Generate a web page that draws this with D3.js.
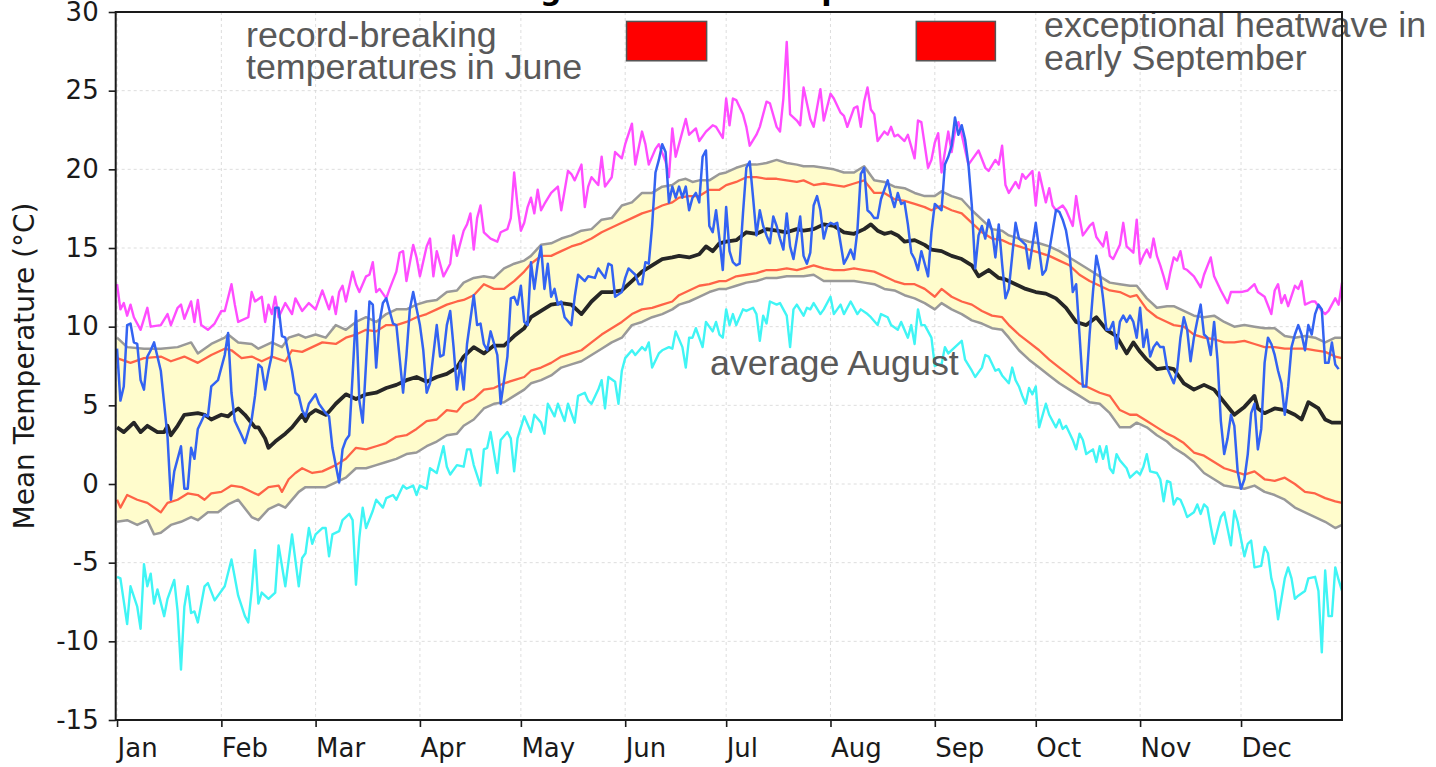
<!DOCTYPE html>
<html>
<head>
<meta charset="utf-8">
<script src="https://cdn.jsdelivr.net/npm/d3@7"></script>
<style>
body { margin: 0; background: #fff; }
svg { display: block; }
</style>
</head>
<body>
<svg id="chart" width="1436" height="767"></svg>
<script>
// day of year (0 = 1 Jan) and temperature in °C
const recordHigh = [[0,12.7],[1,11.1],[2,11.5],[3,10.7],[4,11.4],[5,10.6],[7,9.8],[9,11.2],[10,10.0],[13,10.1],[15,10.8],[16,10.1],[18,11.2],[19,11.4],[20,10.5],[22,11.6],[23,10.3],[24,11.7],[25,10.1],[27,9.8],[29,10.2],[31,11.0],[32,11.0],[34,12.7],[35,11.4],[36,10.3],[39,10.6],[40,12.2],[41,11.6],[43,11.9],[44,10.3],[45,11.4],[46,10.8],[47,11.9],[48,10.6],[50,11.5],[52,10.8],[53,11.8],[55,11.0],[57,11.5],[59,11.1],[61,12.3],[63,11.1],[64,11.9],[65,10.8],[66,12.2],[67,12.6],[68,11.6],[70,13.5],[71,12.7],[72,12.2],[74,13.2],[75,13.3],[76,14.1],[77,12.2],[78,12.4],[80,11.8],[81,12.4],[83,13.5],[84,14.7],[85,14.8],[86,12.9],[88,15.2],[89,14.4],[90,13.2],[92,15.1],[93,15.6],[94,13.2],[95,14.8],[96,14.0],[97,13.2],[99,14.0],[100,15.8],[101,14.5],[103,16.1],[104,16.5],[105,17.2],[106,14.9],[107,16.9],[108,17.7],[109,16.0],[111,15.6],[113,15.4],[114,16.0],[116,16.2],[117,16.9],[118,19.8],[119,17.7],[120,16.1],[121,16.6],[122,17.6],[123,18.2],[124,17.2],[125,18.7],[126,17.4],[127,17.8],[129,18.5],[131,18.9],[132,17.4],[134,19.9],[135,19.7],[136,19.3],[138,20.3],[139,17.6],[140,18.9],[141,19.5],[143,19.0],[144,20.8],[145,18.9],[147,19.5],[148,21.1],[150,20.7],[151,21.6],[153,22.9],[154,20.3],[156,22.4],[157,21.6],[158,20.3],[160,21.3],[161,21.6],[163,20.5],[164,19.5],[165,22.6],[166,20.8],[167,21.6],[169,23.2],[170,22.2],[172,22.6],[173,21.8],[175,22.4],[177,22.8],[178,22.7],[180,22.0],[181,24.5],[182,22.8],[183,24.5],[184,24.4],[186,23.5],[187,22.7],[188,21.5],[190,22.2],[191,22.7],[193,24.3],[194,24.2],[196,22.7],[197,22.4],[198,24.5],[199,28.1],[200,23.5],[202,23.1],[203,22.8],[204,25.2],[206,23.2],[207,22.7],[209,25.1],[210,23.1],[212,24.8],[213,24.5],[215,23.6],[216,23.4],[217,22.7],[219,23.9],[220,24.0],[221,22.7],[222,24.3],[223,25.2],[224,23.8],[225,23.5],[226,21.8],[228,22.4],[229,22.2],[230,22.7],[231,22.1],[232,22.2],[234,21.8],[235,22.2],[237,20.7],[238,23.1],[239,23.0],[241,20.1],[242,20.6],[243,21.7],[244,22.3],[245,19.8],[247,22.4],[248,21.1],[249,22.4],[250,23.0],[251,22.2],[253,20.3],[254,20.6],[256,21.2],[258,20.1],[259,19.9],[261,20.6],[262,20.3],[263,21.5],[264,19.0],[265,18.5],[267,19.2],[268,18.8],[269,19.7],[270,19.4],[272,19.9],[273,17.7],[274,19.8],[276,17.9],[277,18.8],[278,17.7],[279,17.4],[281,17.7],[282,17.4],[284,16.4],[285,18.3],[286,16.9],[287,15.8],[289,16.4],[290,16.6],[291,15.7],[293,15.1],[294,16.0],[295,14.5],[296,14.3],[298,15.2],[299,16.6],[300,15.1],[302,14.7],[303,16.8],[304,14.0],[305,14.5],[306,14.9],[307,14.4],[308,15.6],[309,14.5],[310,13.9],[311,13.2],[312,12.4],[313,13.5],[314,14.4],[315,14.2],[316,14.8],[317,13.7],[318,13.6],[320,13.2],[322,12.5],[323,13.3],[325,14.4],[326,13.2],[328,12.3],[329,11.9],[330,11.5],[331,12.2],[333,12.2],[334,12.2],[336,12.3],[338,12.7],[339,12.2],[341,11.9],[343,10.8],[344,12.3],[345,12.7],[346,11.5],[347,12.0],[348,11.3],[350,12.6],[351,12.4],[352,12.9],[353,11.4],[355,11.6],[356,11.6],[358,11.0],[359,10.8],[360,11.0],[362,11.8],[363,11.4],[364,12.8]];

const recordLow = [[0,-5.9],[1,-6.0],[3,-8.9],[4,-6.5],[6,-7.8],[7,-9.2],[8,-5.1],[9,-6.5],[10,-5.7],[11,-7.6],[12,-6.7],[14,-8.4],[15,-7.3],[17,-6.1],[18,-8.1],[19,-11.8],[20,-7.8],[21,-6.5],[22,-8.2],[23,-8.1],[24,-8.8],[26,-6.5],[27,-6.3],[29,-7.4],[32,-6.5],[34,-4.8],[36,-7.1],[38,-8.4],[39,-8.8],[40,-6.8],[41,-4.2],[42,-7.6],[43,-6.9],[45,-7.3],[47,-6.9],[48,-3.9],[50,-6.5],[52,-3.2],[54,-6.5],[55,-4.7],[56,-4.4],[57,-2.8],[58,-3.8],[59,-3.2],[61,-2.8],[62,-2.8],[63,-4.6],[64,-3.2],[66,-3.0],[67,-2.3],[69,-1.9],[70,-2.3],[71,-6.4],[72,-3.4],[73,-1.5],[74,-2.8],[76,-1.7],[77,-1.0],[79,-1.5],[80,-0.9],[82,-0.7],[83,-1.0],[85,-0.1],[86,-0.3],[88,-0.1],[89,-0.7],[90,-0.1],[92,-0.3],[93,1.0],[95,0.7],[97,2.4],[98,1.1],[99,0.6],[101,1.2],[103,1.1],[104,2.2],[105,2.2],[106,1.2],[108,-0.1],[109,2.2],[110,2.3],[111,3.3],[113,0.7],[114,2.8],[116,3.3],[117,2.9],[118,0.8],[119,2.9],[121,4.3],[123,3.3],[124,4.4],[126,3.9],[127,3.2],[128,5.1],[130,4.3],[131,5.1],[133,4.0],[134,5.1],[136,3.9],[137,5.6],[139,5.8],[140,5.3],[141,5.1],[143,6.0],[144,6.6],[145,4.8],[146,6.8],[148,6.5],[149,5.1],[150,7.2],[151,8.0],[153,8.5],[154,8.2],[156,8.7],[157,8.5],[158,9.0],[159,7.4],[161,8.3],[162,8.5],[164,8.7],[165,8.6],[166,9.7],[168,8.7],[169,7.4],[170,9.3],[171,9.3],[172,9.9],[174,8.7],[175,10.3],[177,9.7],[178,10.3],[179,9.5],[180,9.3],[181,11.1],[182,10.1],[183,10.8],[184,10.1],[186,11.1],[187,11.0],[189,11.2],[190,10.8],[191,9.1],[192,10.7],[193,10.2],[194,11.6],[196,11.4],[197,11.5],[199,10.7],[200,8.7],[201,11.1],[202,11.4],[204,10.7],[205,11.2],[206,11.1],[207,11.5],[209,10.8],[210,11.1],[212,11.9],[213,10.8],[215,11.4],[216,10.8],[218,11.6],[220,10.8],[221,11.1],[223,10.8],[224,10.6],[226,10.1],[227,10.8],[229,10.6],[230,10.1],[232,9.8],[233,10.3],[235,9.3],[236,10.1],[237,8.9],[238,11.1],[239,10.1],[240,10.1],[242,9.3],[243,7.5],[244,7.6],[245,7.6],[246,8.7],[247,8.3],[249,8.7],[251,9.1],[252,7.9],[254,7.2],[255,6.8],[257,7.4],[258,8.2],[259,8.1],[261,7.2],[262,7.3],[263,6.9],[265,6.4],[266,7.4],[267,6.6],[268,6.2],[269,5.6],[270,5.1],[271,6.1],[272,5.7],[273,6.2],[274,3.6],[276,5.1],[277,4.4],[279,3.6],[280,4.1],[281,3.5],[282,3.7],[284,2.8],[285,2.2],[286,3.2],[287,2.8],[288,1.9],[290,2.2],[291,1.4],[292,2.4],[293,1.6],[294,2.4],[295,1.0],[296,0.7],[297,1.9],[298,1.5],[300,1.0],[301,0.4],[303,0.8],[304,0.6],[305,1.1],[306,1.9],[307,0.8],[309,0.7],[310,0.3],[311,-1.1],[312,0.2],[313,0.1],[314,-1.3],[315,-0.9],[316,-1.0],[317,-1.5],[318,-2.1],[320,-1.8],[321,-1.3],[322,-1.9],[323,-1.3],[324,-1.5],[325,-2.7],[326,-3.8],[328,-2.1],[329,-1.8],[331,-3.9],[332,-1.7],[333,-2.4],[335,-4.6],[336,-3.8],[337,-3.6],[338,-5.3],[340,-5.2],[341,-4.0],[342,-4.4],[343,-6.0],[344,-6.8],[345,-8.6],[347,-6.0],[348,-5.3],[349,-6.0],[350,-7.3],[351,-7.1],[353,-6.8],[354,-6.0],[356,-5.9],[357,-6.8],[358,-10.7],[359,-5.5],[360,-8.4],[361,-8.4],[362,-5.3],[363,-6.1],[364,-6.8]];

// outer percentile band (grey) and inner percentile band (orange)
const outerHigh = [[0,9.3],[3,8.7],[8,8.6],[13,8.6],[18,8.7],[22,9.0],[24,8.3],[28,8.9],[32,9.3],[33,9.5],[36,9.0],[40,8.9],[42,8.6],[46,9.0],[49,8.7],[51,9.3],[54,9.5],[56,9.3],[59,9.5],[62,9.3],[65,10.1],[68,9.8],[71,10.3],[74,10.6],[77,10.3],[80,10.8],[83,11.1],[86,11.1],[89,11.4],[92,11.6],[95,11.7],[98,12.2],[101,12.3],[103,12.8],[106,13.1],[109,13.2],[112,13.1],[115,13.7],[118,14.0],[121,14.2],[123,14.5],[126,15.2],[129,15.3],[132,15.6],[135,15.8],[138,16.1],[141,16.2],[144,16.8],[147,16.9],[150,17.7],[153,17.9],[156,18.5],[159,18.5],[162,18.9],[165,19.0],[167,19.3],[169,19.4],[171,19.2],[173,19.3],[176,19.3],[179,19.7],[181,19.8],[184,20.1],[187,20.3],[190,20.3],[193,20.4],[196,20.6],[199,20.4],[202,20.3],[204,20.2],[207,20.2],[210,20.1],[213,20.0],[216,19.8],[219,19.8],[222,20.2],[225,19.3],[228,19.2],[231,18.9],[234,18.8],[237,18.5],[240,18.3],[243,18.3],[245,18.6],[248,18.3],[251,18.1],[254,17.4],[257,16.8],[260,16.2],[263,16.1],[265,15.8],[268,15.6],[271,15.4],[274,15.3],[277,15.1],[280,14.8],[283,14.4],[286,14.0],[289,13.6],[292,13.2],[295,12.8],[298,12.7],[301,12.6],[303,12.6],[306,11.8],[309,11.2],[312,11.3],[314,11.3],[317,11.0],[320,10.7],[323,10.6],[326,10.7],[329,10.3],[332,10.0],[335,10.1],[338,10.0],[341,9.9],[344,9.9],[347,9.4],[350,9.3],[353,9.4],[356,9.3],[359,9.0],[362,9.3],[364,9.3]];

const innerHigh = [[0,8.0],[4,7.7],[8,8.0],[13,8.1],[16,7.8],[20,8.1],[24,7.7],[28,8.2],[32,8.6],[34,8.5],[37,8.0],[40,8.1],[43,7.8],[46,8.1],[50,7.8],[52,8.5],[55,8.4],[58,8.7],[61,9.0],[65,8.9],[68,9.3],[71,9.5],[74,9.8],[77,9.7],[80,10.1],[83,10.1],[86,10.3],[89,10.6],[92,10.8],[95,11.1],[98,11.4],[101,11.6],[103,11.7],[106,12.0],[109,12.7],[112,12.4],[115,12.4],[118,12.9],[121,13.5],[123,14.0],[126,14.5],[129,14.5],[132,14.8],[135,15.1],[138,15.3],[141,15.6],[144,16.0],[147,16.3],[150,16.6],[153,16.9],[156,17.2],[159,17.4],[162,17.7],[165,17.9],[167,18.2],[170,18.3],[173,18.3],[176,18.7],[179,18.7],[181,19.0],[184,19.2],[187,19.5],[190,19.5],[193,19.4],[196,19.4],[199,19.3],[202,19.2],[204,19.3],[207,19.0],[210,19.1],[213,19.0],[216,18.9],[219,19.1],[222,19.3],[225,18.5],[228,18.5],[231,18.1],[234,18.0],[237,17.8],[240,17.6],[242,17.4],[245,17.7],[248,17.4],[251,17.2],[254,16.6],[257,16.0],[260,15.6],[263,15.5],[265,15.3],[268,15.1],[271,14.9],[274,14.7],[277,14.5],[280,14.2],[283,13.9],[286,13.3],[289,12.9],[292,12.6],[295,12.3],[298,12.2],[301,11.9],[303,12.0],[306,11.1],[309,10.6],[312,10.3],[314,10.1],[317,10.0],[320,9.5],[323,9.3],[326,9.2],[329,9.0],[332,9.0],[335,9.1],[338,8.9],[341,8.7],[344,8.7],[347,8.6],[350,8.6],[353,8.6],[356,8.5],[359,8.4],[362,8.1],[364,8.0]];

const meanTemp = [[0,3.6],[2,3.3],[5,3.9],[7,3.3],[9,3.7],[12,3.3],[14,3.3],[15,3.7],[16,3.1],[18,3.7],[20,4.4],[24,4.5],[26,4.4],[28,4.1],[31,4.4],[33,4.3],[34,4.5],[36,4.8],[38,4.4],[41,3.6],[42,3.6],[44,2.9],[45,2.3],[47,2.7],[50,3.2],[52,3.6],[55,4.4],[56,4.0],[57,4.4],[59,4.7],[62,4.4],[63,4.6],[65,5.1],[68,5.7],[71,5.4],[74,5.7],[77,5.8],[80,6.1],[83,6.3],[86,6.6],[89,6.8],[92,6.5],[95,6.8],[98,7.0],[101,7.4],[103,8.1],[106,8.7],[109,8.3],[112,8.8],[115,8.8],[118,9.4],[121,9.9],[123,10.6],[126,11.0],[129,11.4],[132,11.5],[135,11.4],[138,10.8],[141,11.6],[144,12.2],[147,12.2],[150,12.3],[153,12.9],[156,13.5],[159,13.9],[162,14.3],[165,14.4],[167,14.5],[170,14.4],[173,14.6],[175,15.1],[177,14.8],[179,15.3],[181,15.4],[184,15.5],[187,16.0],[190,15.9],[193,16.2],[196,16.1],[199,16.0],[202,16.2],[204,16.1],[207,16.2],[210,16.5],[213,16.4],[216,16.0],[219,15.9],[222,16.2],[224,16.5],[226,16.1],[228,15.9],[230,16.0],[232,15.8],[234,15.4],[237,15.5],[240,15.2],[242,14.9],[245,14.8],[248,14.5],[251,14.3],[254,13.9],[256,13.2],[259,13.6],[262,13.1],[264,13.0],[267,12.7],[270,12.4],[273,12.2],[276,12.1],[279,11.8],[282,11.2],[285,10.3],[288,10.1],[291,10.6],[294,9.8],[297,9.4],[300,8.3],[302,9.0],[304,8.4],[306,7.9],[309,7.3],[312,7.4],[314,7.3],[317,6.4],[320,6.0],[323,6.3],[326,6.0],[329,5.2],[332,4.4],[335,4.9],[338,5.6],[339,4.8],[341,4.5],[344,4.8],[347,4.7],[350,4.4],[352,4.1],[354,5.2],[357,4.8],[359,4.1],[361,3.9],[364,3.9]];

const innerLow = [[0,-1.0],[1,-1.5],[3,-0.7],[6,-1.0],[9,-1.2],[13,-1.8],[15,-1.2],[18,-1.0],[21,-0.6],[24,-0.7],[26,-1.0],[28,-0.6],[31,-0.5],[34,-0.1],[37,-0.2],[39,-0.4],[42,-0.7],[45,-0.2],[48,-0.1],[49,-0.5],[51,0.3],[53,0.7],[55,1.0],[58,0.7],[61,0.8],[65,1.2],[68,1.6],[71,2.3],[74,2.2],[77,2.4],[80,2.6],[83,3.0],[86,3.1],[89,3.5],[92,4.0],[95,4.1],[98,4.7],[101,4.6],[103,5.1],[106,5.4],[109,6.0],[112,6.1],[115,6.4],[118,6.6],[121,6.8],[123,7.2],[126,7.4],[129,7.7],[132,8.1],[135,8.3],[138,8.5],[141,9.0],[144,9.5],[147,9.9],[150,10.3],[153,10.8],[156,11.1],[159,11.2],[162,11.4],[165,11.6],[167,12.0],[170,12.3],[173,12.6],[176,12.7],[179,12.9],[181,12.9],[184,13.2],[187,13.3],[190,13.4],[193,13.6],[196,13.6],[199,13.7],[202,13.6],[204,13.7],[207,13.9],[210,13.7],[213,13.6],[216,13.6],[219,13.7],[222,13.6],[225,13.5],[228,13.2],[231,12.9],[234,12.7],[237,12.7],[240,12.4],[243,11.9],[245,12.4],[248,11.9],[251,11.6],[254,11.4],[257,11.0],[260,10.7],[263,10.6],[265,10.1],[268,9.5],[271,9.0],[274,8.5],[277,7.9],[280,7.4],[283,6.9],[286,6.4],[289,6.1],[292,5.8],[295,5.6],[298,4.7],[301,4.4],[303,4.4],[306,4.0],[309,3.6],[312,3.2],[314,3.0],[317,2.6],[320,2.0],[323,1.8],[326,1.4],[329,1.0],[332,0.8],[335,0.6],[338,0.8],[341,0.3],[344,0.2],[347,0.4],[350,0.0],[353,-0.5],[356,-0.6],[359,-0.9],[362,-1.1],[364,-1.2]];

const outerLow = [[0,-2.4],[3,-2.3],[6,-2.6],[9,-2.3],[11,-3.2],[13,-3.1],[16,-2.6],[19,-2.4],[22,-2.1],[24,-2.3],[27,-1.8],[30,-1.8],[33,-1.3],[36,-1.0],[40,-2.1],[42,-2.3],[45,-1.6],[48,-1.3],[50,-1.5],[54,-0.5],[56,-0.2],[59,-0.2],[62,-0.2],[65,0.1],[68,0.4],[71,1.0],[74,1.0],[77,1.2],[80,1.4],[83,1.6],[86,1.9],[89,2.0],[92,2.4],[95,2.7],[98,3.1],[101,3.2],[103,3.7],[106,4.1],[109,4.8],[112,5.1],[115,5.2],[118,5.6],[121,6.0],[123,6.4],[126,6.6],[129,6.9],[132,7.4],[135,7.6],[138,7.8],[141,8.2],[144,8.6],[147,9.0],[150,9.3],[153,10.1],[156,10.3],[159,10.6],[162,10.8],[165,11.1],[167,11.4],[170,11.6],[173,11.9],[176,12.2],[179,12.4],[181,12.4],[184,12.6],[187,12.8],[190,12.9],[193,13.1],[196,13.1],[199,13.2],[202,13.2],[204,13.2],[207,13.3],[210,12.9],[213,12.9],[216,12.9],[219,12.9],[222,12.8],[225,12.7],[228,12.4],[231,12.3],[234,12.0],[237,11.8],[240,11.5],[243,11.1],[245,11.5],[248,11.1],[251,10.8],[254,10.4],[257,10.2],[260,9.9],[263,9.8],[265,9.3],[268,8.5],[271,7.9],[274,7.4],[277,6.9],[280,6.4],[283,6.0],[286,5.6],[289,5.2],[292,5.1],[295,4.5],[298,3.6],[301,3.6],[303,3.9],[306,3.6],[309,3.1],[312,2.7],[314,2.3],[317,1.9],[320,1.4],[323,0.7],[326,0.3],[329,-0.1],[332,-0.2],[335,-0.3],[338,-0.1],[341,-0.5],[344,-0.7],[347,-1.0],[350,-1.5],[353,-1.8],[356,-2.1],[359,-2.4],[362,-2.8],[364,-2.6]];

const thisYear = [[0,8.6],[1,5.3],[2,6.2],[3,10.1],[4,10.2],[5,9.0],[6,8.9],[7,6.6],[8,6.0],[9,8.1],[10,8.5],[11,9.0],[12,8.1],[13,7.2],[15,3.0],[16,-1.0],[17,0.8],[19,2.4],[20,-0.3],[21,-0.3],[22,2.3],[23,1.6],[24,3.5],[26,4.4],[27,4.3],[28,6.2],[30,6.6],[32,8.2],[33,9.6],[34,5.8],[35,4.0],[37,3.1],[38,2.6],[40,4.1],[41,5.6],[42,7.6],[43,7.4],[44,6.0],[45,7.2],[46,8.2],[47,11.2],[48,11.2],[49,9.4],[50,9.3],[52,7.2],[53,5.8],[54,5.6],[55,4.7],[56,4.3],[57,5.1],[59,5.7],[60,5.1],[62,4.5],[63,4.3],[64,2.3],[66,0.1],[67,2.2],[68,2.8],[69,3.1],[70,6.9],[71,11.0],[72,5.3],[73,3.9],[74,7.7],[75,11.6],[76,11.4],[77,7.4],[78,10.3],[79,11.5],[80,11.8],[82,10.2],[83,10.1],[85,5.8],[86,8.2],[87,11.1],[88,12.2],[90,10.1],[91,8.5],[92,5.8],[93,6.4],[95,10.1],[96,8.1],[97,8.2],[98,10.1],[99,11.0],[100,8.7],[101,6.0],[102,7.7],[103,6.0],[104,8.9],[106,12.0],[107,10.1],[108,10.2],[109,8.9],[110,8.5],[111,9.7],[113,8.2],[114,5.1],[116,8.1],[117,11.8],[118,11.9],[119,11.4],[120,12.6],[121,10.3],[122,10.1],[123,14.1],[124,12.4],[125,14.0],[126,15.1],[127,12.4],[128,14.0],[129,11.9],[130,12.4],[131,11.4],[132,11.6],[133,10.6],[135,10.1],[136,11.9],[137,13.3],[139,12.9],[140,13.2],[142,13.1],[143,13.7],[145,13.1],[146,14.0],[147,13.9],[148,11.9],[150,12.2],[151,13.1],[152,13.7],[154,13.3],[155,12.7],[156,12.7],[157,14.1],[158,14.0],[159,16.4],[160,19.8],[161,20.6],[162,21.6],[163,21.1],[164,17.9],[165,18.9],[166,18.2],[167,18.9],[168,18.2],[169,18.9],[170,17.4],[171,18.2],[172,18.5],[173,17.9],[174,20.8],[175,21.2],[176,16.4],[177,16.0],[178,17.4],[179,15.6],[180,13.6],[181,17.6],[182,14.8],[183,14.1],[184,13.9],[185,14.0],[186,17.2],[187,20.1],[188,20.5],[189,18.2],[190,15.8],[191,17.4],[192,16.4],[193,15.8],[194,15.3],[195,17.0],[196,16.4],[197,15.6],[198,14.9],[199,17.2],[200,15.1],[201,14.3],[202,15.6],[203,17.0],[204,14.5],[205,14.0],[206,14.7],[207,17.7],[208,18.3],[209,17.4],[210,15.6],[211,16.4],[212,16.6],[213,16.5],[214,16.6],[215,15.3],[216,14.0],[217,14.4],[218,14.9],[219,14.3],[220,16.1],[221,19.7],[222,20.1],[223,17.4],[224,17.2],[225,16.9],[226,16.9],[227,18.1],[228,18.7],[229,19.3],[230,18.3],[231,17.6],[232,18.5],[233,17.8],[234,17.9],[235,16.5],[236,14.7],[237,14.3],[238,13.6],[239,14.8],[240,14.0],[241,13.2],[242,16.0],[243,17.8],[245,17.4],[246,20.3],[247,20.8],[248,21.5],[249,23.3],[250,22.2],[251,22.8],[252,21.9],[253,20.3],[254,17.7],[255,13.7],[256,15.8],[257,16.4],[258,15.6],[259,16.8],[260,16.1],[261,14.4],[262,16.5],[263,14.0],[264,11.8],[265,12.4],[266,14.5],[267,16.6],[268,15.6],[269,15.4],[270,15.2],[271,13.7],[273,16.6],[274,14.9],[275,13.3],[276,13.6],[277,14.8],[279,17.4],[280,17.3],[281,16.8],[282,16.1],[283,14.8],[284,12.2],[285,12.7],[286,9.5],[287,6.2],[288,6.2],[289,9.5],[290,12.2],[291,14.5],[292,13.5],[293,11.8],[294,9.8],[295,9.8],[296,10.3],[297,8.6],[298,10.3],[299,10.7],[300,10.3],[301,10.7],[302,10.3],[303,9.3],[304,11.2],[305,8.7],[306,9.8],[307,8.1],[308,8.7],[309,9.0],[310,8.7],[311,8.7],[312,7.4],[313,6.9],[314,6.4],[315,7.2],[316,9.3],[317,10.6],[318,9.8],[319,7.8],[320,9.3],[321,10.4],[322,11.4],[323,9.5],[324,9.3],[325,8.2],[326,10.3],[327,7.9],[328,4.0],[329,1.9],[330,2.9],[331,4.4],[332,3.7],[333,0.8],[334,-0.3],[335,0.3],[336,1.9],[337,4.5],[338,5.1],[339,2.2],[340,3.5],[341,7.7],[342,9.3],[343,8.9],[344,8.2],[345,7.2],[346,6.4],[347,4.4],[348,6.2],[349,8.7],[350,9.5],[351,10.1],[352,9.5],[353,8.5],[354,10.1],[355,9.5],[356,10.8],[357,11.4],[358,11.1],[359,7.7],[360,7.7],[361,9.0],[362,7.6],[363,7.3]];

const monthNames = ['Jan', 'Feb', 'Mar', 'Apr', 'May', 'Jun', 'Jul', 'Aug', 'Sep', 'Oct', 'Nov', 'Dec'];
const monthStarts = [0, 31, 59, 90, 120, 151, 181, 212, 243, 273, 304, 334];
const tempTicks = [-15, -10, -5, 0, 5, 10, 15, 20, 25, 30];

// the two marked heat periods: [first day, last day]
const heatPeriods = [[151.4, 175.2], [237.5, 261.0]];

const width = 1436;
const height = 767;
const margin = {top: 12, right: 94, bottom: 47, left: 115.7};

const svg = d3.select('#chart');

const x = d3.scaleLinear()
	.domain([-0.4, 364])
	.range([margin.left, width - margin.right]);

const y = d3.scaleLinear()
	.domain([-15, 30])
	.range([height - margin.bottom, margin.top]);

const line = d3.line()
	.x((d)=>x(d[0]))
	.y((d)=>y(d[1]));

// title, mostly cut off by the top of the picture
svg.append('text')
	.attr('x', 706)
	.attr('y', 0)
	.attr('text-anchor', 'middle')
	.attr('font-family', 'DejaVu Sans')
	.attr('font-weight', 'bold')
	.attr('font-size', 30)
	.attr('fill', '#000')
	.text('Average Mean Air Temperature');

// grid
const grid = svg.append('g').attr('class', 'grid')
	.attr('stroke', '#d4d4d4')
	.attr('stroke-width', 0.8)
	.attr('stroke-dasharray', '3,3');

grid.selectAll('line.v')
	.data(monthStarts)
	.enter()
	.append('line')
	.attr('class', 'v')
	.attr('x1', (d)=>x(d)).attr('x2', (d)=>x(d))
	.attr('y1', y(30)).attr('y2', y(-15));

grid.selectAll('line.h')
	.data(tempTicks)
	.enter()
	.append('line')
	.attr('class', 'h')
	.attr('x1', x.range()[0]).attr('x2', x.range()[1])
	.attr('y1', (d)=>y(d)).attr('y2', (d)=>y(d));

// yellow band between the outer percentiles
const bandPoints = outerHigh.concat(outerLow.slice().reverse());
svg.append('path')
	.attr('d', line(bandPoints) + 'Z')
	.attr('fill', '#fffccc')
	.attr('stroke', 'none');

const series = [
	{data: outerHigh, color: '#999999', width: 2.5},
	{data: outerLow, color: '#999999', width: 2.5},
	{data: innerHigh, color: '#ff6347', width: 2.3},
	{data: innerLow, color: '#ff6347', width: 2.3},
	{data: recordLow, color: '#40f5f5', width: 2.4},
	{data: recordHigh, color: '#ff4dff', width: 2.4},
	{data: meanTemp, color: '#262626', width: 3.8},
	{data: thisYear, color: '#3363f2', width: 2.5}
];

svg.append('g').attr('class', 'series')
	.selectAll('path')
	.data(series)
	.enter()
	.append('path')
	.attr('d', (s)=>line(s.data))
	.attr('fill', 'none')
	.attr('stroke', (s)=>s.color)
	.attr('stroke-width', (s)=>s.width)
	.attr('stroke-linejoin', 'round');

// red boxes marking the heat periods
svg.append('g')
	.selectAll('rect')
	.data(heatPeriods)
	.enter()
	.append('rect')
	.attr('x', (d)=>x(d[0]))
	.attr('width', (d)=>x(d[1]) - x(d[0]))
	.attr('y', y(29.4))
	.attr('height', y(26.9) - y(29.4))
	.attr('fill', '#ff0000')
	.attr('stroke', '#555555')
	.attr('stroke-width', 1.5);

// annotations
const notes = svg.append('g')
	.attr('font-family', 'Liberation Sans, Arial, sans-serif')
	.attr('font-size', 35.8)
	.attr('fill', '#595959');

notes.append('text').attr('x', 246).attr('y', 46.5).text('record-breaking');
notes.append('text').attr('x', 246).attr('y', 78.5).text('temperatures in June');
notes.append('text').attr('x', 1044).attr('y', 37).text('exceptional heatwave in');
notes.append('text').attr('x', 1044).attr('y', 70).text('early September');
notes.append('text').attr('x', 710).attr('y', 375).text('average August');

// axes
const fontAxis = (g)=>g.selectAll('text')
	.attr('font-family', 'DejaVu Sans')
	.attr('font-size', 26)
	.attr('fill', '#1a1a1a');

const xAxis = svg.append('g')
	.attr('transform', `translate(0,${y(-15)})`)
	.call(d3.axisBottom(x)
		.tickValues(monthStarts)
		.tickFormat((d, i)=>monthNames[i])
		.tickSize(7)
		.tickPadding(12))
	.call(fontAxis);
xAxis.selectAll('text').attr('text-anchor', 'start');

const yAxis = svg.append('g')
	.attr('transform', `translate(${x.range()[0]},0)`)
	.call(d3.axisLeft(y)
		.tickValues(tempTicks)
		.tickFormat((d)=>String(d))
		.tickSize(7)
		.tickPadding(10))
	.call(fontAxis);

[xAxis, yAxis].forEach((axis)=>{
	axis.select('.domain').remove();
	axis.selectAll('.tick line').attr('stroke', '#1a1a1a').attr('stroke-width', 1.6);
});

// frame
svg.append('rect')
	.attr('x', x.range()[0])
	.attr('y', y(30))
	.attr('width', x.range()[1] - x.range()[0])
	.attr('height', y(-15) - y(30))
	.attr('fill', 'none')
	.attr('stroke', '#1a1a1a')
	.attr('stroke-width', 2);

svg.append('text')
	.attr('transform', `translate(34,${(y(30) + y(-15)) / 2}) rotate(-90)`)
	.attr('text-anchor', 'middle')
	.attr('font-family', 'DejaVu Sans')
	.attr('font-size', 28)
	.attr('fill', '#1a1a1a')
	.text('Mean Temperature (°C)');
</script>
</body>
</html>
